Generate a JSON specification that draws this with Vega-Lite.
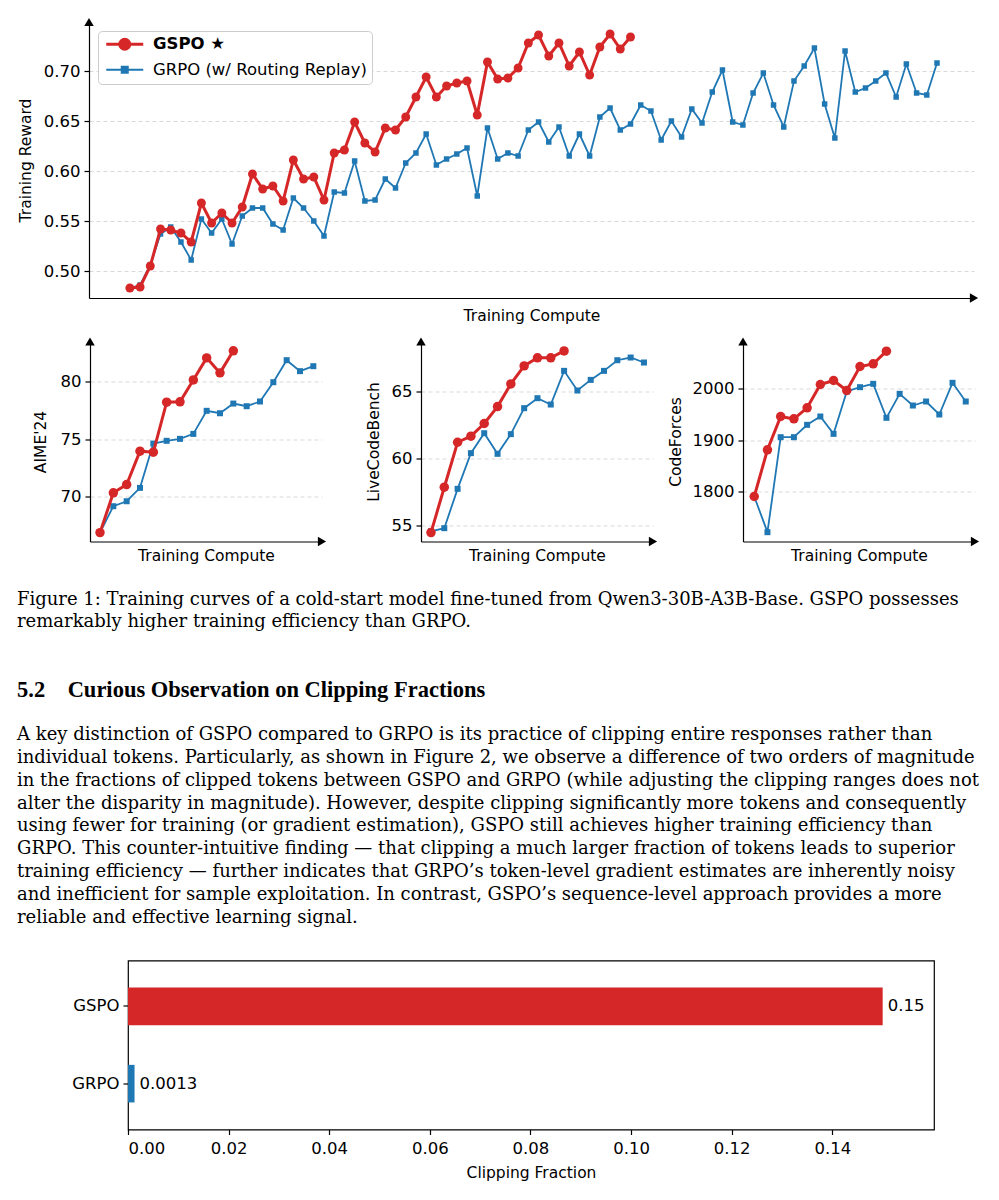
{
"$schema": "https://vega.github.io/schema/vega-lite/v6.json",
"background": "white",
"padding": {"left": 17, "top": 17, "right": 5, "bottom": 5},
"config": {
  "font": "DejaVu Sans",
  "view": {"stroke": null},
  "axis": {"domainColor": "black", "domainWidth": 1.2, "tickColor": "black", "tickWidth": 1.2, "labelColor": "black", "titleColor": "black", "labelFont": "DejaVu Sans", "titleFont": "DejaVu Sans", "labelFontSize": 16.5, "titleFontSize": 15.5, "titleFontWeight": "normal", "gridDash": [4, 3], "gridColor": "#d9d9d9", "gridWidth": 1}
},
"datasets": {
  "top": [
    {"s":"GSPO ★","i":1,"v":0.483},{"s":"GSPO ★","i":2,"v":0.484},{"s":"GSPO ★","i":3,"v":0.505},{"s":"GSPO ★","i":4,"v":0.542},{"s":"GSPO ★","i":5,"v":0.541},
    {"s":"GSPO ★","i":6,"v":0.538},{"s":"GSPO ★","i":7,"v":0.529},{"s":"GSPO ★","i":8,"v":0.568},{"s":"GSPO ★","i":9,"v":0.548},{"s":"GSPO ★","i":10,"v":0.558},
    {"s":"GSPO ★","i":11,"v":0.548},{"s":"GSPO ★","i":12,"v":0.564},{"s":"GSPO ★","i":13,"v":0.597},{"s":"GSPO ★","i":14,"v":0.582},{"s":"GSPO ★","i":15,"v":0.585},
    {"s":"GSPO ★","i":16,"v":0.570},{"s":"GSPO ★","i":17,"v":0.611},{"s":"GSPO ★","i":18,"v":0.592},{"s":"GSPO ★","i":19,"v":0.594},{"s":"GSPO ★","i":20,"v":0.571},
    {"s":"GSPO ★","i":21,"v":0.618},{"s":"GSPO ★","i":22,"v":0.621},{"s":"GSPO ★","i":23,"v":0.649},{"s":"GSPO ★","i":24,"v":0.628},{"s":"GSPO ★","i":25,"v":0.619},
    {"s":"GSPO ★","i":26,"v":0.643},{"s":"GSPO ★","i":27,"v":0.641},{"s":"GSPO ★","i":28,"v":0.654},{"s":"GSPO ★","i":29,"v":0.674},{"s":"GSPO ★","i":30,"v":0.694},
    {"s":"GSPO ★","i":31,"v":0.674},{"s":"GSPO ★","i":32,"v":0.685},{"s":"GSPO ★","i":33,"v":0.688},{"s":"GSPO ★","i":34,"v":0.690},{"s":"GSPO ★","i":35,"v":0.656},
    {"s":"GSPO ★","i":36,"v":0.709},{"s":"GSPO ★","i":37,"v":0.692},{"s":"GSPO ★","i":38,"v":0.693},{"s":"GSPO ★","i":39,"v":0.703},{"s":"GSPO ★","i":40,"v":0.728},
    {"s":"GSPO ★","i":41,"v":0.736},{"s":"GSPO ★","i":42,"v":0.715},{"s":"GSPO ★","i":43,"v":0.728},{"s":"GSPO ★","i":44,"v":0.705},{"s":"GSPO ★","i":45,"v":0.719},
    {"s":"GSPO ★","i":46,"v":0.696},{"s":"GSPO ★","i":47,"v":0.724},{"s":"GSPO ★","i":48,"v":0.737},{"s":"GSPO ★","i":49,"v":0.722},{"s":"GSPO ★","i":50,"v":0.734},
    {"s":"GRPO (w/ Routing Replay)","i":1,"v":0.483},{"s":"GRPO (w/ Routing Replay)","i":2,"v":0.486},{"s":"GRPO (w/ Routing Replay)","i":3,"v":0.506},{"s":"GRPO (w/ Routing Replay)","i":4,"v":0.537},{"s":"GRPO (w/ Routing Replay)","i":5,"v":0.544},
    {"s":"GRPO (w/ Routing Replay)","i":6,"v":0.529},{"s":"GRPO (w/ Routing Replay)","i":7,"v":0.511},{"s":"GRPO (w/ Routing Replay)","i":8,"v":0.552},{"s":"GRPO (w/ Routing Replay)","i":9,"v":0.538},{"s":"GRPO (w/ Routing Replay)","i":10,"v":0.552},
    {"s":"GRPO (w/ Routing Replay)","i":11,"v":0.527},{"s":"GRPO (w/ Routing Replay)","i":12,"v":0.555},{"s":"GRPO (w/ Routing Replay)","i":13,"v":0.563},{"s":"GRPO (w/ Routing Replay)","i":14,"v":0.563},{"s":"GRPO (w/ Routing Replay)","i":15,"v":0.547},
    {"s":"GRPO (w/ Routing Replay)","i":16,"v":0.541},{"s":"GRPO (w/ Routing Replay)","i":17,"v":0.573},{"s":"GRPO (w/ Routing Replay)","i":18,"v":0.563},{"s":"GRPO (w/ Routing Replay)","i":19,"v":0.550},{"s":"GRPO (w/ Routing Replay)","i":20,"v":0.535},
    {"s":"GRPO (w/ Routing Replay)","i":21,"v":0.579},{"s":"GRPO (w/ Routing Replay)","i":22,"v":0.578},{"s":"GRPO (w/ Routing Replay)","i":23,"v":0.610},{"s":"GRPO (w/ Routing Replay)","i":24,"v":0.570},{"s":"GRPO (w/ Routing Replay)","i":25,"v":0.571},
    {"s":"GRPO (w/ Routing Replay)","i":26,"v":0.592},{"s":"GRPO (w/ Routing Replay)","i":27,"v":0.583},{"s":"GRPO (w/ Routing Replay)","i":28,"v":0.608},{"s":"GRPO (w/ Routing Replay)","i":29,"v":0.618},{"s":"GRPO (w/ Routing Replay)","i":30,"v":0.637},
    {"s":"GRPO (w/ Routing Replay)","i":31,"v":0.606},{"s":"GRPO (w/ Routing Replay)","i":32,"v":0.612},{"s":"GRPO (w/ Routing Replay)","i":33,"v":0.617},{"s":"GRPO (w/ Routing Replay)","i":34,"v":0.623},{"s":"GRPO (w/ Routing Replay)","i":35,"v":0.575},
    {"s":"GRPO (w/ Routing Replay)","i":36,"v":0.643},{"s":"GRPO (w/ Routing Replay)","i":37,"v":0.612},{"s":"GRPO (w/ Routing Replay)","i":38,"v":0.618},{"s":"GRPO (w/ Routing Replay)","i":39,"v":0.615},{"s":"GRPO (w/ Routing Replay)","i":40,"v":0.641},
    {"s":"GRPO (w/ Routing Replay)","i":41,"v":0.649},{"s":"GRPO (w/ Routing Replay)","i":42,"v":0.629},{"s":"GRPO (w/ Routing Replay)","i":43,"v":0.644},{"s":"GRPO (w/ Routing Replay)","i":44,"v":0.615},{"s":"GRPO (w/ Routing Replay)","i":45,"v":0.637},
    {"s":"GRPO (w/ Routing Replay)","i":46,"v":0.615},{"s":"GRPO (w/ Routing Replay)","i":47,"v":0.654},{"s":"GRPO (w/ Routing Replay)","i":48,"v":0.663},{"s":"GRPO (w/ Routing Replay)","i":49,"v":0.641},{"s":"GRPO (w/ Routing Replay)","i":50,"v":0.647},
    {"s":"GRPO (w/ Routing Replay)","i":51,"v":0.666},{"s":"GRPO (w/ Routing Replay)","i":52,"v":0.660},{"s":"GRPO (w/ Routing Replay)","i":53,"v":0.631},{"s":"GRPO (w/ Routing Replay)","i":54,"v":0.650},{"s":"GRPO (w/ Routing Replay)","i":55,"v":0.634},
    {"s":"GRPO (w/ Routing Replay)","i":56,"v":0.662},{"s":"GRPO (w/ Routing Replay)","i":57,"v":0.648},{"s":"GRPO (w/ Routing Replay)","i":58,"v":0.679},{"s":"GRPO (w/ Routing Replay)","i":59,"v":0.701},{"s":"GRPO (w/ Routing Replay)","i":60,"v":0.649},
    {"s":"GRPO (w/ Routing Replay)","i":61,"v":0.646},{"s":"GRPO (w/ Routing Replay)","i":62,"v":0.678},{"s":"GRPO (w/ Routing Replay)","i":63,"v":0.698},{"s":"GRPO (w/ Routing Replay)","i":64,"v":0.666},{"s":"GRPO (w/ Routing Replay)","i":65,"v":0.644},
    {"s":"GRPO (w/ Routing Replay)","i":66,"v":0.690},{"s":"GRPO (w/ Routing Replay)","i":67,"v":0.705},{"s":"GRPO (w/ Routing Replay)","i":68,"v":0.723},{"s":"GRPO (w/ Routing Replay)","i":69,"v":0.667},{"s":"GRPO (w/ Routing Replay)","i":70,"v":0.633},
    {"s":"GRPO (w/ Routing Replay)","i":71,"v":0.720},{"s":"GRPO (w/ Routing Replay)","i":72,"v":0.679},{"s":"GRPO (w/ Routing Replay)","i":73,"v":0.683},{"s":"GRPO (w/ Routing Replay)","i":74,"v":0.690},{"s":"GRPO (w/ Routing Replay)","i":75,"v":0.698},
    {"s":"GRPO (w/ Routing Replay)","i":76,"v":0.674},{"s":"GRPO (w/ Routing Replay)","i":77,"v":0.707},{"s":"GRPO (w/ Routing Replay)","i":78,"v":0.678},{"s":"GRPO (w/ Routing Replay)","i":79,"v":0.676},{"s":"GRPO (w/ Routing Replay)","i":80,"v":0.708}
  ],
  "aime": [
    {"s":"GSPO","i":1,"v":66.9},{"s":"GSPO","i":2,"v":70.35},{"s":"GSPO","i":3,"v":71.07},{"s":"GSPO","i":4,"v":73.96},{"s":"GSPO","i":5,"v":73.87},{"s":"GSPO","i":6,"v":78.21},
    {"s":"GSPO","i":7,"v":78.24},{"s":"GSPO","i":8,"v":80.14},{"s":"GSPO","i":9,"v":82.05},{"s":"GSPO","i":10,"v":80.75},{"s":"GSPO","i":11,"v":82.66},
    {"s":"GRPO","i":1,"v":66.9},{"s":"GRPO","i":2,"v":69.19},{"s":"GRPO","i":3,"v":69.62},{"s":"GRPO","i":4,"v":70.78},{"s":"GRPO","i":5,"v":74.62},{"s":"GRPO","i":6,"v":74.86},
    {"s":"GRPO","i":7,"v":75.03},{"s":"GRPO","i":8,"v":75.46},{"s":"GRPO","i":9,"v":77.46},{"s":"GRPO","i":10,"v":77.25},{"s":"GRPO","i":11,"v":78.09},{"s":"GRPO","i":12,"v":77.86},
    {"s":"GRPO","i":13,"v":78.27},{"s":"GRPO","i":14,"v":79.94},{"s":"GRPO","i":15,"v":81.85},{"s":"GRPO","i":16,"v":80.9},{"s":"GRPO","i":17,"v":81.33}
  ],
  "lcb": [
    {"s":"GSPO","i":1,"v":54.5},{"s":"GSPO","i":2,"v":57.87},{"s":"GSPO","i":3,"v":61.21},{"s":"GSPO","i":4,"v":61.66},{"s":"GSPO","i":5,"v":62.6},{"s":"GSPO","i":6,"v":63.86},
    {"s":"GSPO","i":7,"v":65.54},{"s":"GSPO","i":8,"v":66.88},{"s":"GSPO","i":9,"v":67.48},{"s":"GSPO","i":10,"v":67.48},{"s":"GSPO","i":11,"v":67.99},
    {"s":"GRPO","i":1,"v":54.6},{"s":"GRPO","i":2,"v":54.83},{"s":"GRPO","i":3,"v":57.75},{"s":"GRPO","i":4,"v":60.4},{"s":"GRPO","i":5,"v":61.88},{"s":"GRPO","i":6,"v":60.35},
    {"s":"GRPO","i":7,"v":61.81},{"s":"GRPO","i":8,"v":63.74},{"s":"GRPO","i":9,"v":64.48},{"s":"GRPO","i":10,"v":64.01},{"s":"GRPO","i":11,"v":66.51},{"s":"GRPO","i":12,"v":65.05},
    {"s":"GRPO","i":13,"v":65.84},{"s":"GRPO","i":14,"v":66.51},{"s":"GRPO","i":15,"v":67.3},{"s":"GRPO","i":16,"v":67.5},{"s":"GRPO","i":17,"v":67.13}
  ],
  "cf": [
    {"s":"GSPO","i":1,"v":1791},{"s":"GSPO","i":2,"v":1881.6},{"s":"GSPO","i":3,"v":1946.3},{"s":"GSPO","i":4,"v":1941.7},{"s":"GSPO","i":5,"v":1963.1},{"s":"GSPO","i":6,"v":2008.4},
    {"s":"GSPO","i":7,"v":2016.2},{"s":"GSPO","i":8,"v":1996.8},{"s":"GSPO","i":9,"v":2043.4},{"s":"GSPO","i":10,"v":2048.5},{"s":"GSPO","i":11,"v":2073.1},
    {"s":"GRPO","i":1,"v":1791},{"s":"GRPO","i":2,"v":1721.7},{"s":"GRPO","i":3,"v":1906.1},{"s":"GRPO","i":4,"v":1906.1},{"s":"GRPO","i":5,"v":1930.1},{"s":"GRPO","i":6,"v":1946.3},
    {"s":"GRPO","i":7,"v":1912.6},{"s":"GRPO","i":8,"v":1994.8},{"s":"GRPO","i":9,"v":2003.2},{"s":"GRPO","i":10,"v":2009.7},{"s":"GRPO","i":11,"v":1943.7},{"s":"GRPO","i":12,"v":1990.3},
    {"s":"GRPO","i":13,"v":1967.6},{"s":"GRPO","i":14,"v":1975.4},{"s":"GRPO","i":15,"v":1950.2},{"s":"GRPO","i":16,"v":2011.7},{"s":"GRPO","i":17,"v":1975.4}
  ],
  "txt": [
    {"kind":"cap","row":-0.2,"t":"Figure 1: Training curves of a cold-start model fine-tuned from Qwen3-30B-A3B-Base. GSPO possesses"},
    {"kind":"cap","row":0.75,"t":"remarkably higher training efficiency than GRPO."},
    {"kind":"head","row":3.84,"t":"5.2\u2003Curious Observation on Clipping Fractions"},
    {"kind":"para","row":5.73,"t":"A key distinction of GSPO compared to GRPO is its practice of clipping entire responses rather than"},
    {"kind":"para","row":6.73,"t":"individual tokens. Particularly, as shown in Figure 2, we observe a difference of two orders of magnitude"},
    {"kind":"para","row":7.73,"t":"in the fractions of clipped tokens between GSPO and GRPO (while adjusting the clipping ranges does not"},
    {"kind":"para","row":8.73,"t":"alter the disparity in magnitude). However, despite clipping significantly more tokens and consequently"},
    {"kind":"para","row":9.73,"t":"using fewer for training (or gradient estimation), GSPO still achieves higher training efficiency than"},
    {"kind":"para","row":10.73,"t":"GRPO. This counter-intuitive finding — that clipping a much larger fraction of tokens leads to superior"},
    {"kind":"para","row":11.73,"t":"training efficiency — further indicates that GRPO’s token-level gradient estimates are inherently noisy"},
    {"kind":"para","row":12.73,"t":"and inefficient for sample exploitation. In contrast, GSPO’s sequence-level approach provides a more"},
    {"kind":"para","row":13.73,"t":"reliable and effective learning signal."}
  ],
  "bars": [
    {"m":"GSPO","f":0.15},
    {"m":"GRPO","f":0.0013}
  ]
},
"concat": [
  {
    "concat": [
      {"width": 1, "height": 1, "data": {"values": []}, "mark": "point"},
      {
        "width": 885, "height": 276,
        "data": {"name": "top"},
        "encoding": {
          "x": {"field": "i", "type": "quantitative", "title": "Training Compute", "scale": {"domain": [-3.0, 83.62], "nice": false, "zero": false}, "axis": {"title": "Training Compute", "labels": false, "ticks": false, "grid": false, "titlePadding": 10}},
          "y": {"field": "v", "type": "quantitative", "title": "Training Reward", "scale": {"domain": [0.473, 0.749], "nice": false, "zero": false}, "axis": {"title": "Training Reward", "values": [0.5, 0.55, 0.6, 0.65, 0.7], "format": ".2f", "grid": true, "tickSize": 5, "labelPadding": 4, "minExtent": 70, "titlePadding": -14}},
          "color": {"field": "s", "type": "nominal", "scale": {"domain": ["GSPO ★", "GRPO (w/ Routing Replay)"], "range": ["#d62728", "#1f77b4"]},
            "legend": {"title": null, "orient": "top-left", "offset": 8.5, "padding": 5, "fillColor": "white", "strokeColor": "#cccccc", "cornerRadius": 4, "labelFont": "DejaVu Sans", "labelFontSize": 16.5, "labelColor": "black", "labelLimit": 400, "rowPadding": 5.5, "symbolSize": 100, "symbolOffset": 13.5, "labelOffset": 20,
              "encode": {
                "symbols": {"update": {
                  "shape": {"signal": "datum.value === 'GSPO ★' ? 'M-3.7,0L3.7,0M1,0A1,1,0,1,1,-1,0A1,1,0,1,1,1,0Z' : 'M-3.7,0L3.7,0M-0.6,-0.6L0.6,-0.6L0.6,0.6L-0.6,0.6Z'"},
                  "fill": {"signal": "datum.value === 'GSPO ★' ? '#d62728' : '#1f77b4'"},
                  "stroke": {"signal": "datum.value === 'GSPO ★' ? '#d62728' : '#1f77b4'"},
                  "strokeWidth": {"signal": "datum.value === 'GSPO ★' ? 3 : 2"},
                  "opacity": {"value": 1}, "fillOpacity": {"value": 1}, "strokeOpacity": {"value": 1}
                }},
                "labels": {"update": {"fontWeight": {"signal": "datum.value === 'GSPO ★' ? 'bold' : 'normal'"}}}
              }
            }
          }
        },
        "layer": [
          {"transform": [{"filter": {"field": "s", "equal": "GRPO (w/ Routing Replay)"}}], "mark": {"type": "line", "strokeWidth": 1.8}},
          {"transform": [{"filter": {"field": "s", "equal": "GRPO (w/ Routing Replay)"}}], "mark": {"type": "point", "shape": "square", "filled": true, "size": 30, "opacity": 1}},
          {"transform": [{"filter": {"field": "s", "equal": "GSPO ★"}}], "mark": {"type": "line", "strokeWidth": 3}},
          {"transform": [{"filter": {"field": "s", "equal": "GSPO ★"}}], "mark": {"type": "point", "shape": "circle", "filled": true, "size": 80, "opacity": 1}},
          {"data": {"values": [{"i": -3.0, "v": 0.749}]}, "mark": {"type": "point", "shape": "triangle-up", "filled": true, "size": 90, "opacity": 1}, "encoding": {"color": {"value": "black"}}},
          {"data": {"values": [{"i": 83.62, "v": 0.473}]}, "mark": {"type": "point", "shape": "triangle-right", "filled": true, "size": 90, "opacity": 1}, "encoding": {"color": {"value": "black"}}}
        ]
      }
    ],
    "columns": 2, "spacing": 0, "align": "none", "bounds": "full",
    "resolve": {"scale": {"color": "independent"}, "legend": {"color": "independent"}}
  },
  {
    "concat": [
      {"width": 1, "height": 1, "data": {"values": []}, "mark": "point"},
      {
        "width": 232, "height": 200,
        "data": {"name": "aime"},
        "encoding": {
          "x": {"field": "i", "type": "quantitative", "title": "Training Compute", "scale": {"domain": [0.25, 17.65], "nice": false, "zero": false}, "axis": {"title": "Training Compute", "labels": false, "ticks": false, "grid": false, "titlePadding": 7}},
          "y": {"field": "v", "type": "quantitative", "title": "AIME'24", "scale": {"domain": [66.13, 83.47], "nice": false, "zero": false}, "axis": {"title": "AIME'24", "values": [70, 75, 80], "format": "d", "grid": true, "tickSize": 5, "labelPadding": 4, "minExtent": 62, "titlePadding": -20.75}}
        },
        "layer": [
          {"transform": [{"filter": {"field": "s", "equal": "GRPO"}}], "mark": {"type": "line", "strokeWidth": 1.8, "color": "#1f77b4"}},
          {"transform": [{"filter": {"field": "s", "equal": "GRPO"}}], "mark": {"type": "point", "shape": "square", "filled": true, "size": 36, "opacity": 1, "color": "#1f77b4"}},
          {"transform": [{"filter": {"field": "s", "equal": "GSPO"}}], "mark": {"type": "line", "strokeWidth": 3, "color": "#d62728"}},
          {"transform": [{"filter": {"field": "s", "equal": "GSPO"}}], "mark": {"type": "point", "shape": "circle", "filled": true, "size": 90, "opacity": 1, "color": "#d62728"}},
          {"data": {"values": [{"i": 0.25, "v": 83.47}]}, "mark": {"type": "point", "shape": "triangle-up", "filled": true, "size": 90, "opacity": 1, "color": "black"}},
          {"data": {"values": [{"i": 17.65, "v": 66.13}]}, "mark": {"type": "point", "shape": "triangle-right", "filled": true, "size": 90, "opacity": 1, "color": "black"}}
        ]
      },
      {
        "width": 232, "height": 200,
        "data": {"name": "lcb"},
        "encoding": {
          "x": {"field": "i", "type": "quantitative", "title": "Training Compute", "scale": {"domain": [0.25, 17.68], "nice": false, "zero": false}, "axis": {"title": "Training Compute", "labels": false, "ticks": false, "grid": false, "titlePadding": 7}},
          "y": {"field": "v", "type": "quantitative", "title": "LiveCodeBench", "scale": {"domain": [53.84, 68.69], "nice": false, "zero": false}, "axis": {"title": "LiveCodeBench", "values": [55, 60, 65], "format": "d", "grid": true, "tickSize": 5, "labelPadding": 4, "minExtent": 84, "titlePadding": -44}}
        },
        "layer": [
          {"transform": [{"filter": {"field": "s", "equal": "GRPO"}}], "mark": {"type": "line", "strokeWidth": 1.8, "color": "#1f77b4"}},
          {"transform": [{"filter": {"field": "s", "equal": "GRPO"}}], "mark": {"type": "point", "shape": "square", "filled": true, "size": 36, "opacity": 1, "color": "#1f77b4"}},
          {"transform": [{"filter": {"field": "s", "equal": "GSPO"}}], "mark": {"type": "line", "strokeWidth": 3, "color": "#d62728"}},
          {"transform": [{"filter": {"field": "s", "equal": "GSPO"}}], "mark": {"type": "point", "shape": "circle", "filled": true, "size": 90, "opacity": 1, "color": "#d62728"}},
          {"data": {"values": [{"i": 0.25, "v": 68.69}]}, "mark": {"type": "point", "shape": "triangle-up", "filled": true, "size": 90, "opacity": 1, "color": "black"}},
          {"data": {"values": [{"i": 17.68, "v": 53.84}]}, "mark": {"type": "point", "shape": "triangle-right", "filled": true, "size": 90, "opacity": 1, "color": "black"}}
        ]
      },
      {
        "width": 232, "height": 200,
        "data": {"name": "cf"},
        "encoding": {
          "x": {"field": "i", "type": "quantitative", "title": "Training Compute", "scale": {"domain": [0.15, 17.7], "nice": false, "zero": false}, "axis": {"title": "Training Compute", "labels": false, "ticks": false, "grid": false, "titlePadding": 7}},
          "y": {"field": "v", "type": "quantitative", "title": "CodeForces", "scale": {"domain": [1703.6, 2091.9], "nice": false, "zero": false}, "axis": {"title": "CodeForces", "values": [1800, 1900, 2000], "format": "d", "grid": true, "tickSize": 5, "labelPadding": 4, "minExtent": 74, "titlePadding": -14.5}}
        },
        "layer": [
          {"transform": [{"filter": {"field": "s", "equal": "GRPO"}}], "mark": {"type": "line", "strokeWidth": 1.8, "color": "#1f77b4"}},
          {"transform": [{"filter": {"field": "s", "equal": "GRPO"}}], "mark": {"type": "point", "shape": "square", "filled": true, "size": 36, "opacity": 1, "color": "#1f77b4"}},
          {"transform": [{"filter": {"field": "s", "equal": "GSPO"}}], "mark": {"type": "line", "strokeWidth": 3, "color": "#d62728"}},
          {"transform": [{"filter": {"field": "s", "equal": "GSPO"}}], "mark": {"type": "point", "shape": "circle", "filled": true, "size": 90, "opacity": 1, "color": "#d62728"}},
          {"data": {"values": [{"i": 0.15, "v": 2091.9}]}, "mark": {"type": "point", "shape": "triangle-up", "filled": true, "size": 90, "opacity": 1, "color": "black"}},
          {"data": {"values": [{"i": 17.7, "v": 1703.6}]}, "mark": {"type": "point", "shape": "triangle-right", "filled": true, "size": 90, "opacity": 1, "color": "black"}}
        ]
      }
    ],
    "columns": 4, "spacing": 10, "align": "none", "bounds": "full"
  },
  {
    "width": 966, "height": 370,
    "data": {"name": "txt"},
    "encoding": {
      "x": {"datum": 0, "type": "quantitative", "scale": {"domain": [0, 1]}, "axis": null},
      "y": {"field": "row", "type": "quantitative", "scale": {"domain": [-1.425, 14.80], "reverse": true, "nice": false, "zero": false}, "axis": null},
      "text": {"field": "t", "type": "nominal"}
    },
    "layer": [
      {"transform": [{"filter": "datum.kind !== 'head'"}], "mark": {"type": "text", "align": "left", "baseline": "alphabetic", "font": "DejaVu Serif", "fontSize": 18, "color": "black"}},
      {"transform": [{"filter": "datum.kind === 'head'"}], "mark": {"type": "text", "align": "left", "baseline": "alphabetic", "font": "Liberation Serif", "fontSize": 22.5, "fontWeight": "bold", "color": "black"}}
    ]
  },
  {
    "concat": [
      {"width": 1, "height": 1, "data": {"values": []}, "mark": "point"},
      {
        "width": 806, "height": 169,
        "view": {"stroke": "black", "strokeWidth": 1.2},
        "data": {"name": "bars"},
        "encoding": {
          "y": {"field": "m", "type": "nominal", "sort": ["GSPO", "GRPO"], "scale": {"paddingInner": 0.514, "paddingOuter": 0.35}, "axis": {"title": null, "tickSize": 5, "labelPadding": 4, "minExtent": 109, "domain": false}},
          "x": {"field": "f", "type": "quantitative", "scale": {"domain": [0, 0.1602], "nice": false}, "axis": {"title": "Clipping Fraction", "values": [0, 0.02, 0.04, 0.06, 0.08, 0.1, 0.12, 0.14], "format": ".2f", "tickSize": 5, "labelPadding": 6, "titlePadding": 8, "grid": false, "domain": false}}
        },
        "layer": [
          {"mark": {"type": "bar"}, "encoding": {"color": {"condition": {"test": "datum.m === 'GSPO'", "value": "#d62728"}, "value": "#1f77b4"}}},
          {"mark": {"type": "text", "align": "left", "baseline": "middle", "dx": 5, "fontSize": 16.5, "font": "DejaVu Sans", "color": "black"}, "encoding": {"text": {"field": "f", "type": "quantitative", "format": "~g"}}}
        ]
      }
    ],
    "columns": 2, "spacing": 0, "align": "none", "bounds": "full"
  }
],
"columns": 1,
"spacing": 12.5,
"align": "none",
"bounds": "full"
}
